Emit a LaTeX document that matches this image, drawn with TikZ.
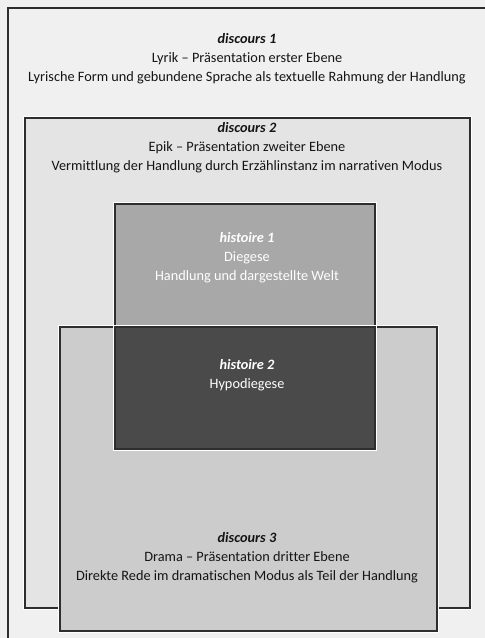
\documentclass[tikz,border=0pt]{standalone}
\usepackage{fontspec}
\setmainfont{Carlito}[Ligatures={NoCommon}]
\definecolor{paper}{HTML}{F0F0F0}
\definecolor{dtwo}{HTML}{E4E4E4}
\definecolor{hone}{HTML}{A8A8A8}
\definecolor{dthree}{HTML}{CCCCCC}
\definecolor{htwo}{HTML}{4A4A4A}
\definecolor{frame}{HTML}{2E2E2E}
\definecolor{ink}{HTML}{151515}
\tikzset{
  panel/.style={draw=frame, line width=1.3pt,
    preaction={draw=white, line width=3.2pt}},
  lbl/.style={align=center, font=\fontsize{14.3}{19}\selectfont, inner sep=0pt, text=ink},
  lbldark/.style={lbl, text=white},
}
\begin{document}
\begin{tikzpicture}[x=1pt,y=-1pt]
\useasboundingbox (0,0) rectangle (485,638);
\clip (0,0) rectangle (485,638);
% paper ground
\fill[paper] (0,0) rectangle (485,638);
% first-level frame (runs past the page edges)
\draw[frame, line width=1.3pt] (8,660) -- (8,8) -- (500,8);
% second level
\draw[panel, fill=dtwo] (25,118) rectangle (470,608);
% histoire 1
\draw[panel, fill=hone] (115,204) rectangle (375,327);
% third level
\draw[panel, fill=dthree] (60,327) rectangle (437,631);
% histoire 2
\draw[panel, fill=htwo] (115,327) rectangle (375,449);

\node[lbl] (d1) at (247,59) {\textbf{\textit{discours 1}}\\
  Lyrik – Präsentation erster Ebene\\
  Lyrische Form und gebundene Sprache als textuelle Rahmung der Handlung};
\node[lbl] (d2) at (247,148) {\textbf{\textit{discours 2}}\\
  Epik – Präsentation zweiter Ebene\\
  Vermittlung der Handlung durch Erzählinstanz im narrativen Modus};
\node[lbldark] (h1) at (247,258) {\textbf{\textit{histoire 1}}\\
  Diegese\\
  Handlung und dargestellte Welt};
\node[lbldark] (h2) at (247,375) {\textbf{\textit{histoire 2}}\\
  Hypodiegese};
\node[lbl] (d3) at (247,558) {\textbf{\textit{discours 3}}\\
  Drama – Präsentation dritter Ebene\\
  Direkte Rede im dramatischen Modus als Teil der Handlung};
\end{tikzpicture}
\end{document}
